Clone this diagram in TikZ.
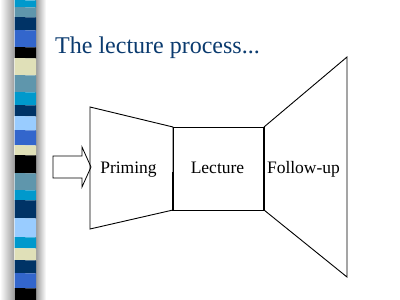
\documentclass[tikz,border=0pt]{standalone}
\usepackage{fontspec}
\setmainfont{Liberation Serif}
\definecolor{cyanb}{HTML}{0099CC}
\definecolor{steelb}{HTML}{5F96AC}
\definecolor{navyb}{HTML}{003366}
\definecolor{royalb}{HTML}{3366CC}
\definecolor{creamb}{HTML}{E0E0B8}
\definecolor{lightb}{HTML}{99CCFF}
\definecolor{titleblue}{HTML}{0B3B6F}
\begin{document}
\begin{tikzpicture}[x=1pt,y=-1pt,
  shape line/.style={draw=black,line width=0.9pt,line join=miter},
  label text/.style={anchor=base,inner sep=0pt,font=\fontsize{17.5}{20}\selectfont},
  title text/.style={anchor=base west,inner sep=0pt,text=titleblue,font=\fontsize{24}{28}\selectfont}]
\useasboundingbox (0,0) rectangle (400,300);
\fill[white] (0,0) rectangle (400,300);
% side strip shading
\shade[left color=white,right color=gray!75] (0,0) rectangle (14,300);
\shade[left color=gray!85,right color=white] (35,0) rectangle (46,300);
% blocks
\foreach \a/\b/\c in {0/7/cyanb,7/17/steelb,17/30/navyb,30/47/royalb,47/58/black,58/75/creamb,75/92/steelb,92/105/cyanb,105/116/navyb,116/130/lightb,130/145/royalb,145/155/creamb,155/173/black,173/190/steelb,190/200/cyanb,200/218/navyb,218/237/lightb,237/248/cyanb,248/260/creamb,260/273/navyb,273/288/royalb,288/300/black}
  \fill[\c] (14.5,\a) -- (36,\a+0.5) -- (36,\b+0.5) -- (14.5,\b) -- cycle;
% title
\node[title text] (title) at (55,53) {The lecture process...};
% priming trapezoid
\draw[shape line] (90,107) -- (173,127) -- (173,210) -- (90,229) -- cycle;
% lecture square
\draw[shape line] (173,127) rectangle (264,210);
\draw[line width=1.6pt] (264,126.5) -- (264,210.5);
\draw[line width=1.6pt] (173,172) -- (173,210.5);
% follow-up trapezoid
\draw[shape line] (264,127) -- (347,57) -- (347,277) -- (264,210);
% input block arrow
\draw[shape line,line width=0.8pt] (53,156) -- (82,156) -- (82,147) -- (91,167) -- (82,187) -- (82,178) -- (53,178) -- cycle;
% labels
\node[label text] (priming) at (128.5,173) {Priming};
\node[label text] (lecture) at (217.5,173) {Lecture};
\node[label text] (followup) at (303.5,173) {Follow-up};
\end{tikzpicture}
\end{document}
